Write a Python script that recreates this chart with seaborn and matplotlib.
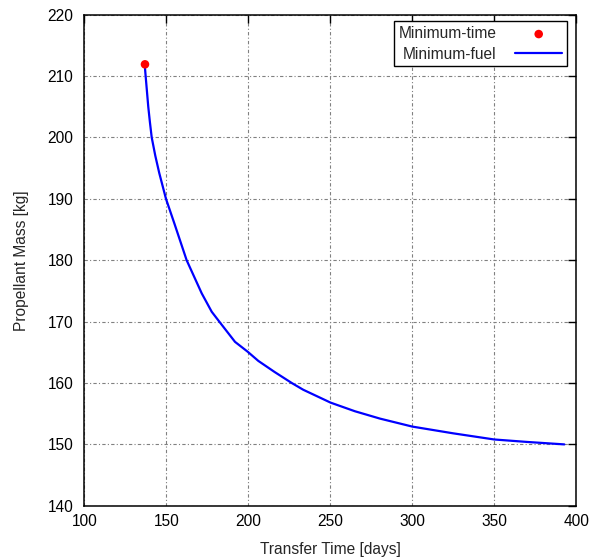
import matplotlib
matplotlib.use("Agg")
import matplotlib.pyplot as plt
import seaborn as sns
import pandas as pd

# Data
fuel_days = [137.0, 137.4, 138.2, 139.0, 140.0, 141.1, 143.3, 145.7, 149.8, 154.9, 162.4,
             171.6, 177.7, 182.3, 191.9, 199.6, 206.1, 216.0, 226.5, 233.5, 250.2,
             265.0, 280.3, 300.0, 325.0, 350.0, 370.0, 392.7]
fuel_mass = [211.3, 210.0, 207.5, 205.0, 202.5, 200.0, 197.0, 194.2, 190.0, 186.0, 180.0,
             174.6, 171.6, 170.0, 166.7, 165.1, 163.6, 161.8, 160.0, 158.9, 156.8,
             155.4, 154.2, 152.9, 151.8, 150.8, 150.4, 150.0]
time_days = [137.0]
time_mass = [211.9]

xticks = [100, 150, 200, 250, 300, 350, 400]
yticks = [140, 150, 160, 170, 180, 190, 200, 210, 220]

sns.set_style("white")
plt.rcParams['font.family'] = ['Liberation Sans', 'DejaVu Sans']

fig = plt.figure(figsize=(5.97, 5.57), dpi=100)
ax = fig.add_axes([84.3 / 597, 1 - 505.8 / 557, (576.3 - 84.3) / 597, (505.8 - 14.6) / 557])

df_fuel = pd.DataFrame({"days": fuel_days, "mass": fuel_mass})
df_time = pd.DataFrame({"days": time_days, "mass": time_mass})

sns.scatterplot(data=df_time, x="days", y="mass", ax=ax, color="#ff0000", s=38,
                edgecolor="none", label="Minimum-time", zorder=4)
sns.lineplot(data=df_fuel, x="days", y="mass", ax=ax, color="#0000ff", lw=1.6,
             sort=False, label="Minimum-fuel", zorder=3)

ax.set_xlim(100, 400)
ax.set_ylim(140, 220)
ax.set_xticks(xticks)
ax.set_yticks(yticks)
ax.grid(True, color="#808080", linestyle=(0, (3, 2, 1, 2)), linewidth=0.8)
ax.set_axisbelow(True)
for s in ax.spines.values():
    s.set_visible(True)
    s.set_color("black")
    s.set_linewidth(1.1)
ax.tick_params(direction="in", length=6, width=1, top=True, right=True,
               labelsize=11.2, colors="black")
ax.tick_params(axis="x", pad=6)
ax.tick_params(axis="y", pad=8)
ax.set_xlabel("Transfer Time [days]", fontsize=11.2, labelpad=9)
ax.set_ylabel("Propellant Mass [kg]", fontsize=11.2, labelpad=13)

leg = ax.legend(loc="upper right", bbox_to_anchor=(0.9805, 0.986), borderaxespad=0,
                markerfirst=False, fancybox=False, framealpha=1, edgecolor="black",
                fontsize=11.2, handlelength=3.0, handletextpad=1.2, borderpad=0.3,
                labelspacing=0.35)
leg.get_frame().set_linewidth(1.0)

fig.savefig("out.png", dpi=100)
